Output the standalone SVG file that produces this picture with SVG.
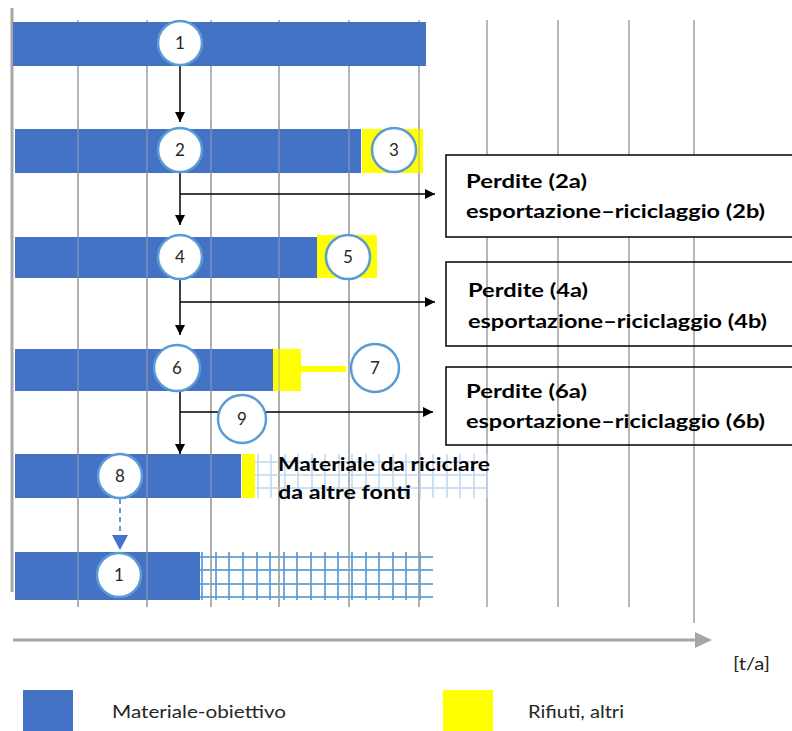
<svg xmlns="http://www.w3.org/2000/svg" width="792" height="731" viewBox="0 0 792 731">
<style>
.bar{fill:#4472C4}
.yel{fill:#FFFF00}
.grid{stroke:#A6A6A6;stroke-width:1.6;fill:none}
.circ{fill:#FFFFFF;stroke:#5B9BD5;stroke-width:2.5}
.num{font-family:Lato,"Liberation Sans",sans-serif;font-size:17px;fill:#262626;text-anchor:middle}
.lbl{font-family:Lato,"Liberation Sans",sans-serif;font-size:19px;font-weight:bold;fill:#000}
.leg{font-family:Lato,"Liberation Sans",sans-serif;font-size:17px;fill:#262626}
.conn{stroke:#000;stroke-width:1.5;fill:none}
.box{stroke:#000;stroke-width:1.5}
</style>
<defs>
<marker id="ah" viewBox="0 0 10 10" refX="10" refY="5" markerWidth="10" markerHeight="10" markerUnits="userSpaceOnUse" orient="auto">
<path d="M0,0 L10,5 L0,10 Z" fill="#000"/>
</marker>
</defs>
<rect width="792" height="731" fill="#FFFFFF"/>

<g id="gridlines" class="grid">
<path d="M78,20V607M147,20V607M211,20V607M279,20V607M349,20V607M419,20V607M487,20V607M558,20V607M629,20V607M694,20V623"/>
</g>

<g id="bars">
<rect class="bar" x="15" y="129" width="346" height="44"/>
<rect class="yel" x="362" y="129" width="61" height="44"/>
<rect class="bar" x="15" y="237" width="302" height="41"/>
<rect class="yel" x="317" y="235" width="60" height="43"/>
<rect class="bar" x="15" y="349" width="258" height="42"/>
<rect class="yel" x="273" y="349" width="28" height="42"/>
<rect class="yel" x="301" y="366" width="45" height="6"/>
<rect class="bar" x="15" y="454" width="226" height="44"/>
<rect class="yel" x="242" y="454" width="13" height="44"/>
<rect class="bar" x="15" y="552" width="185" height="48"/>
</g>

<g id="hatch8" stroke="#BDD7EE" stroke-width="1.5">
<path d="M255,462H487M255,475H487M255,488H487"/>
<path d="M258,454V498M271,454V498M285,454V498M298,454V498M312,454V498M325,454V498M339,454V498M352,454V498M366,454V498M379,454V498M393,454V498M406,454V498M420,454V498M433,454V498M447,454V498M460,454V498M474,454V498M487,454V498"/>
</g>
<g id="hatch1" stroke="#5B9BD5" stroke-width="2" stroke-opacity="0.85">
<path d="M200,557H433M200,570H433M200,584H433M200,597H433"/>
<path d="M202,552V600M216,552V600M229,552V600M243,552V600M257,552V600M270,552V600M284,552V600M297,552V600M311,552V600M325,552V600M338,552V600M352,552V600M366,552V600M379,552V600M393,552V600M406,552V600M420,552V600"/>
</g>

<g id="gridoverlay" class="grid" stroke-opacity="0.55">
<path d="M78,120V607M147,120V607M211,120V607M279,120V607M349,120V607M419,120V607"/>
</g>

<g id="axes" stroke="#A6A6A6" stroke-width="3" fill="none">
<path d="M12,8V592"/>
<path d="M13,640H697"/>
<path d="M695,632L712,640L695,648Z" fill="#A6A6A6" stroke="none"/>
</g>

<g id="bar1">
<rect class="bar" x="13" y="22" width="413" height="44"/>
</g>

<g id="connectors">
<path class="conn" d="M180,66V122" marker-end="url(#ah)"/>
<path class="conn" d="M180,172V225" marker-end="url(#ah)"/>
<path class="conn" d="M180,194H435" marker-end="url(#ah)"/>
<path class="conn" d="M180,279V335" marker-end="url(#ah)"/>
<path class="conn" d="M180,302H435" marker-end="url(#ah)"/>
<path class="conn" d="M180,391V454" marker-end="url(#ah)"/>
<path class="conn" d="M180,412H433" marker-end="url(#ah)"/>
<path d="M120,499V538" stroke="#4472C4" stroke-width="1.5" stroke-dasharray="5,4" fill="none"/>
<path d="M112,535L120,550L128,535Z" fill="#4472C4"/>
</g>

<g id="box1">
<rect class="box" x="446" y="155" width="360" height="82" fill="#FFFFFF"/>
<text class="lbl" x="466" y="188" textLength="121" lengthAdjust="spacingAndGlyphs">Perdite (2a)</text>
<text class="lbl" x="466" y="218" textLength="299" lengthAdjust="spacingAndGlyphs">esportazione–riciclaggio (2b)</text>
</g>
<g id="box2">
<rect class="box" x="446" y="262" width="360" height="84" fill="none"/>
<text class="lbl" x="468" y="297" textLength="120" lengthAdjust="spacingAndGlyphs">Perdite (4a)</text>
<text class="lbl" x="468" y="328" textLength="299" lengthAdjust="spacingAndGlyphs">esportazione–riciclaggio (4b)</text>
</g>
<g id="box3">
<rect class="box" x="446" y="367" width="360" height="78" fill="none"/>
<text class="lbl" x="466" y="398" textLength="121" lengthAdjust="spacingAndGlyphs">Perdite (6a)</text>
<text class="lbl" x="466" y="428" textLength="299" lengthAdjust="spacingAndGlyphs">esportazione–riciclaggio (6b)</text>
</g>

<g id="recycled-label">
<text class="lbl" x="278" y="471" textLength="212" lengthAdjust="spacingAndGlyphs">Materiale da riciclare</text>
<text class="lbl" x="278" y="499" textLength="133" lengthAdjust="spacingAndGlyphs">da altre fonti</text>
</g>

<g id="n1"><circle class="circ" cx="180" cy="43" r="22"/><text class="num" x="180" y="49">1</text></g>
<g id="n2"><circle class="circ" cx="180" cy="150" r="22"/><text class="num" x="180" y="156">2</text></g>
<g id="n3"><circle class="circ" cx="394" cy="150" r="22"/><text class="num" x="394" y="156">3</text></g>
<g id="n4"><circle class="circ" cx="180" cy="257" r="22"/><text class="num" x="180" y="263">4</text></g>
<g id="n5"><circle class="circ" cx="348" cy="257" r="22"/><text class="num" x="348" y="263">5</text></g>
<g id="n6"><circle class="circ" cx="177" cy="368" r="23"/><text class="num" x="177" y="374">6</text></g>
<g id="n7"><circle class="circ" cx="375" cy="368" r="24"/><text class="num" x="375" y="374">7</text></g>
<g id="n9"><circle class="circ" cx="242" cy="419" r="24"/><text class="num" x="242" y="425">9</text></g>
<g id="n8"><circle class="circ" cx="120" cy="476" r="22"/><text class="num" x="120" y="482">8</text></g>
<g id="n1b"><circle class="circ" cx="119" cy="575" r="22"/><text class="num" x="119" y="581">1</text></g>

<g id="unit"><text class="leg" x="733" y="670" textLength="37" lengthAdjust="spacingAndGlyphs">[t/a]</text></g>
<g id="legend">
<rect class="bar" x="23" y="690" width="50" height="41"/>
<text class="leg" x="112" y="718" textLength="174" lengthAdjust="spacingAndGlyphs">Materiale-obiettivo</text>
<rect class="yel" x="443" y="690" width="50" height="41"/>
<text class="leg" x="528" y="718" textLength="96" lengthAdjust="spacingAndGlyphs">Rifiuti, altri</text>
</g>
</svg>
